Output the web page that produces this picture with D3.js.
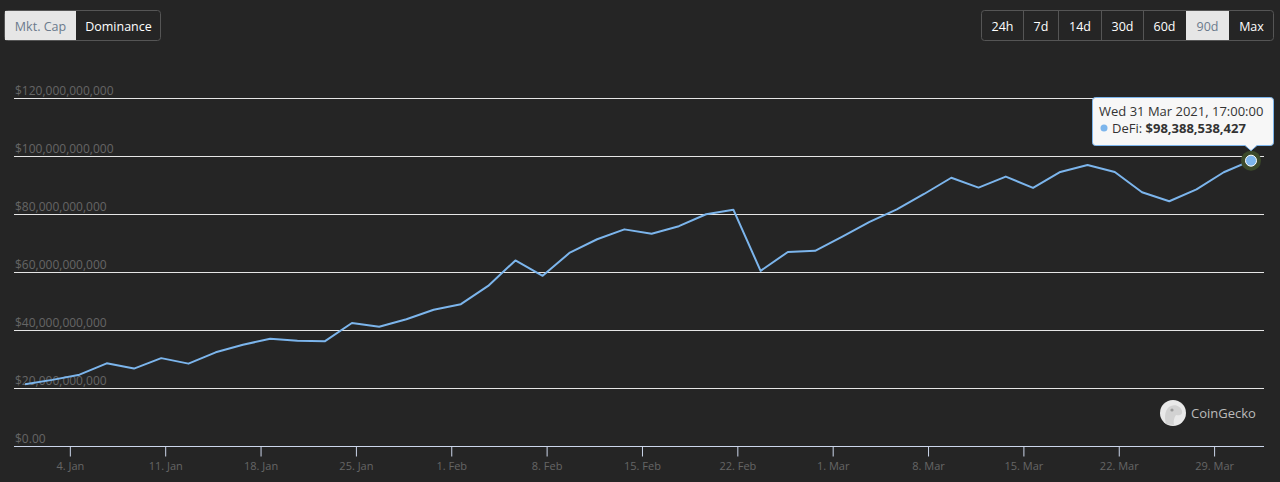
<!DOCTYPE html>
<html>
<head>
<meta charset="utf-8">
<script src="https://cdn.jsdelivr.net/npm/d3@7"></script>
<style>
  html, body { margin: 0; padding: 0; background: #252525; }
  svg { display: block; font-family: "Open Sans", "Noto Sans", sans-serif; }
</style>
</head>
<body>
<script>
//chart data (DeFi market cap, every 2 days, billions USD)
const startDate = Date.UTC(2020, 11, 31, 17);
const stepDays = 2;
const defiCap = [21.3, 22.8, 24.6, 28.5, 26.7, 30.3, 28.4, 32.3, 34.9, 37.0,
  36.3, 36.1, 42.4, 41.1, 43.7, 47.0, 48.9, 55.2, 64.0, 58.7,
  66.7, 71.3, 74.7, 73.2, 75.8, 79.9, 81.5, 60.4, 66.9, 67.3,
  72.2, 77.3, 81.6, 86.9, 92.5, 89.1, 92.9, 89.0, 94.5, 96.9,
  94.5, 87.5, 84.4, 88.5, 94.4, 98.388538427];
const yTicks = [0, 20, 40, 60, 80, 100, 120];
const xTickDates = ["2021-01-04", "2021-01-11", "2021-01-18", "2021-01-25", "2021-02-01",
  "2021-02-08", "2021-02-15", "2021-02-22", "2021-03-01", "2021-03-08",
  "2021-03-15", "2021-03-22", "2021-03-29"];
const leftButtons = ["Mkt. Cap", "Dominance"];
const rangeButtons = ["24h", "7d", "14d", "30d", "60d", "90d", "Max"];
const tooltipDate = "Wed 31 Mar 2021, 17:00:00";
const tooltipValue = "$98,388,538,427";

const width = 1280;
const height = 482;
const plotLeft = 14, plotRight = 1264;

let points = defiCap.map((v, i) => ({ t: new Date(startDate + i * stepDays * 864e5), v: v }));

let svg = d3.select("body").append("svg")
  .attr("width", width)
  .attr("height", height);

let x = d3.scaleUtc()
  .domain(d3.extent(points, d => d.t))
  .range([25, 1251]);
let y = d3.scaleLinear()
  .domain([0, 120])
  .range([446, 98]);

//gridlines + y labels
let grid = svg.append("g");
grid.selectAll("line")
  .data(yTicks.filter(d => d > 0))
  .enter().append("line")
    .attr("x1", plotLeft).attr("x2", plotRight)
    .attr("y1", d => Math.round(y(d)) + 0.5)
    .attr("y2", d => Math.round(y(d)) + 0.5)
    .attr("stroke", "#e6e6e6")
    .attr("stroke-width", 1);

const fmtMoney = d => d === 0 ? "$0.00" : "$" + d3.format(",")(d * 1e9);
grid.selectAll("text")
  .data(yTicks)
  .enter().append("text")
    .attr("x", plotLeft + 1)
    .attr("y", d => Math.round(y(d)) - 3)
    .attr("font-size", 12)
    .attr("fill", "#666666")
    .text(fmtMoney);

//x axis
let xAxis = d3.axisBottom(x)
  .tickValues(xTickDates.map(s => new Date(s + "T00:00:00Z")))
  .tickSize(10)
  .tickPadding(6)
  .tickFormat(d => d.getUTCDate() + ". " + d3.utcFormat("%b")(d));
let xg = svg.append("g")
  .attr("transform", "translate(0,446.5)")
  .call(xAxis);
xg.select(".domain").remove();
xg.append("line")
  .attr("x1", plotLeft).attr("x2", plotRight)
  .attr("stroke", "#ccd6eb");
xg.selectAll(".tick line").attr("stroke", "#ccd6eb");
xg.selectAll(".tick text")
  .attr("fill", "#666666")
  .attr("font-size", 11)
  .attr("font-family", "\"Open Sans\", \"Noto Sans\", sans-serif");

//credits watermark
let credit = svg.append("g").attr("transform", "translate(1173,413)");
credit.append("circle").attr("r", 13).attr("fill", "#e9e9e9");
credit.append("path")
  .attr("d", "M-7,11 C-9,4 -8,-5 -2,-7 C3,-9 8,-6 9,-2 C10,2 6,3 3,2 C1,5 0,8 1,12 Z")
  .attr("fill", "#d2d2d2");
credit.append("circle").attr("cx", -1).attr("cy", -3).attr("r", 1.6).attr("fill", "#9a9a9a");
svg.append("text")
  .attr("x", 1191).attr("y", 418)
  .attr("font-size", 13)
  .attr("fill", "#bbbbbb")
  .text("CoinGecko");

//series line
let line = d3.line()
  .x(d => x(d.t))
  .y(d => y(d.v));
svg.append("path")
  .datum(points)
  .attr("fill", "none")
  .attr("stroke", "#7cb5ec")
  .attr("stroke-width", 2)
  .attr("stroke-linejoin", "round")
  .attr("d", line);

//hovered point
let last = points[points.length - 1];
svg.append("circle")
  .attr("cx", x(last.t)).attr("cy", y(last.v))
  .attr("r", 10)
  .attr("fill", "#3c4a2b");
svg.append("circle")
  .attr("cx", x(last.t)).attr("cy", y(last.v))
  .attr("r", 5.5)
  .attr("fill", "#7cb5ec")
  .attr("stroke", "#ffffff")
  .attr("stroke-width", 1);

//tooltip
let tip = svg.append("g");
const tx = x(last.t), ty = y(last.v);
tip.append("path")
  .attr("d", `M1092.5,100.5 Q1092.5,97.5 1095.5,97.5 L1270.5,97.5 Q1273.5,97.5 1273.5,100.5 L1273.5,142.5 Q1273.5,145.5 1270.5,145.5 L${tx + 6},145.5 L${tx},${ty - 10} L${tx - 6},145.5 L1095.5,145.5 Q1092.5,145.5 1092.5,142.5 Z`)
  .attr("fill", "#f7f7f7")
  .attr("stroke", "#7cb5ec")
  .attr("stroke-width", 1);
tip.append("text")
  .attr("x", 1099).attr("y", 116)
  .attr("font-size", 13)
  .attr("fill", "#333333")
  .text(tooltipDate);
tip.append("circle")
  .attr("cx", 1104).attr("cy", 128)
  .attr("r", 3.5)
  .attr("fill", "#7cb5ec");
let t2 = tip.append("text")
  .attr("x", 1112).attr("y", 132.5)
  .attr("font-size", 13)
  .attr("fill", "#333333");
t2.append("tspan").text("DeFi: ");
t2.append("tspan").attr("font-weight", "bold").text(tooltipValue);

//button groups
function buttonGroup(labels, left, widths, selected) {
  let g = svg.append("g");
  let total = d3.sum(widths);
  let xs = d3.cumsum([0].concat(widths)).slice(0, -1);
  g.append("rect")
    .attr("x", left + 0.5).attr("y", 10.5)
    .attr("width", total).attr("height", 30)
    .attr("rx", 3)
    .attr("fill", "#252525")
    .attr("stroke", "#555555");
  labels.forEach((lab, i) => {
    let bx = left + xs[i];
    if (lab === selected) {
      g.append("rect")
        .attr("x", bx + 1).attr("y", 11)
        .attr("width", widths[i] - 1).attr("height", 29)
        .attr("fill", "#e6e6e6");
    } else if (i > 0 && labels[i - 1] !== selected) {
      g.append("line")
        .attr("x1", bx + 0.5).attr("x2", bx + 0.5)
        .attr("y1", 11).attr("y2", 40)
        .attr("stroke", "#555555");
    }
    g.append("text")
      .attr("x", bx + widths[i] / 2 + 0.5).attr("y", 31)
      .attr("text-anchor", "middle")
      .attr("font-size", 12.5)
      .attr("fill", lab === selected ? "#6b7a8c" : "#ffffff")
      .text(lab);
  });
}
buttonGroup(leftButtons, 4, [72, 84], "Mkt. Cap");
buttonGroup(rangeButtons, 981, [42, 35, 43, 42, 42, 44, 44], "90d");
</script>
</body>
</html>
